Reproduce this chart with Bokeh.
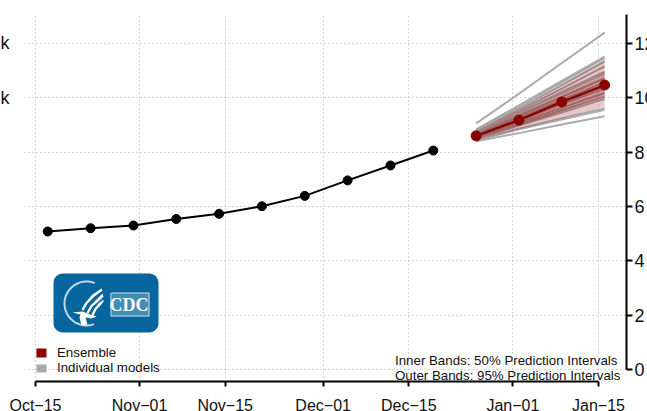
import math
from bokeh.plotting import figure
from bokeh.models import (Range1d, FixedTicker, Label, BoxAnnotation, PolyAnnotation, LinearAxis)
from bokeh.embed import file_html
from bokeh.resources import INLINE

# days since Oct-15
tick_days = [0, 17, 31, 47, 61, 78, 92]
tick_labels = ["Oct\u221215", "Nov\u221201", "Nov\u221215", "Dec\u221201", "Dec\u221215", "Jan\u221201", "Jan\u221215"]
y_ticks = [0, 20, 40, 60, 80, 100, 120]
y_labels = ["0", "2", "4", "6", "8", "10", "12"]
left_ticks = [100, 120]
left_labels = ["k", "k"]

obs_days = [2, 9, 16, 23, 30, 37, 44, 51, 58, 65]
obs_vals = [50.8, 52.0, 53.0, 55.4, 57.3, 60.1, 63.9, 69.6, 75.1, 80.6]

fc_days = [72, 79, 86, 93]
ens_vals = [86.0, 91.8, 98.5, 104.7]
outer_lo = [84.4, 88.4, 92.4, 96.8]
outer_hi = [87.8, 96.0, 104.8, 114.0]
inner_lo = [85.0, 89.6, 95.0, 100.6]
inner_hi = [87.0, 93.8, 101.4, 108.6]

models = [
    [90.6, 101.5, 112.8, 124.0],
    [88.4, 97.2, 106.2, 115.2],
    [88.2, 96.9, 105.7, 114.6],
    [87.8, 96.2, 104.8, 113.4],
    [87.5, 95.4, 103.4, 111.6],
    [87.2, 94.6, 102.2, 109.6],
    [87.0, 94.3, 101.7, 109.0],
    [86.6, 93.5, 100.3, 107.2],
    [86.3, 92.8, 99.2, 105.8],
    [86.0, 92.0, 98.2, 104.2],
    [85.8, 91.6, 97.6, 103.4],
    [85.5, 90.8, 96.4, 101.8],
    [85.2, 90.2, 95.4, 100.4],
    [84.9, 89.8, 94.6, 99.6],
    [84.6, 88.6, 92.4, 96.2],
    [84.4, 88.4, 92.0, 95.6],
    [84.0, 87.0, 90.2, 93.2],
]

BLACK = "#000000"
RED = "#8b0000"
GRAY = "#aaaaaa"
FONT = "Liberation Sans"

p = figure(width=650, height=411, frame_width=602, frame_height=367,
           output_backend="svg", toolbar_location=None,
           x_range=Range1d(-1.797, 96.57), y_range=Range1d(-4.42, 130.67),
           y_axis_location="right", min_border_left=25, min_border_top=14,
           min_border_right=21, min_border_bottom=30, outline_line_color=None)
p.styles = {"margin-left": "-3px"}

xa = p.xaxis[0]
xa.ticker = FixedTicker(ticks=tick_days)
xa.major_label_overrides = dict(zip(tick_days, tick_labels))
xa.bounds = (0, 92)
xa.axis_line_width = 2
xa.axis_line_color = BLACK
xa.major_tick_line_width = 2
xa.major_tick_line_color = BLACK
xa.major_tick_in = 0
xa.major_tick_out = 5
xa.minor_tick_line_color = None
xa.major_label_text_font = FONT
xa.major_label_text_font_size = "16px"
xa.major_label_text_color = "#111111"
xa.major_label_standoff = 10

ya = p.yaxis[0]
ya.ticker = FixedTicker(ticks=y_ticks)
ya.major_label_overrides = dict(zip(y_ticks, y_labels))
ya.bounds = (0, 130.67)
ya.axis_line_width = 2
ya.axis_line_color = BLACK
ya.major_tick_line_width = 2
ya.major_tick_line_color = BLACK
ya.major_tick_in = 0
ya.major_tick_out = 6
ya.minor_tick_line_color = None
ya.major_label_text_font = FONT
ya.major_label_text_font_size = "18px"
ya.major_label_text_color = "#111111"
ya.major_label_standoff = 2
ya.major_label_orientation = "horizontal"

left = LinearAxis(ticker=FixedTicker(ticks=left_ticks),
                  major_label_overrides=dict(zip(left_ticks, left_labels)),
                  axis_line_color=None, major_tick_line_color=None, minor_tick_line_color=None,
                  major_tick_in=0, major_tick_out=0, major_label_standoff=15,
                  major_label_text_font=FONT, major_label_text_font_size="18px",
                  major_label_text_color="#111111", major_label_orientation="horizontal")
p.add_layout(left, "left")

for g in (p.xgrid[0], p.ygrid[0]):
    g.grid_line_color = "#aaaaaa"
    g.grid_line_dash = "1 3"
    g.grid_line_width = 1
p.xgrid[0].ticker = FixedTicker(ticks=tick_days)
p.ygrid[0].ticker = FixedTicker(ticks=y_ticks)

for m in models:
    p.line(fc_days, m, line_color=GRAY, line_width=2)

p.varea(x=fc_days, y1=outer_lo, y2=outer_hi, fill_color=RED, fill_alpha=0.22)
p.varea(x=fc_days, y1=inner_lo, y2=inner_hi, fill_color=RED, fill_alpha=0.22)

p.line(fc_days, ens_vals, line_color=RED, line_width=2.5)
p.scatter(fc_days, ens_vals, size=10, fill_color=RED, line_color=RED)

p.line(obs_days, obs_vals, line_color=BLACK, line_width=2)
p.scatter(obs_days, obs_vals, size=9, fill_color=BLACK, line_color=BLACK)

# annotation screen units count from the frame's lower-left corner
FL, FB = 24, 381


def label(x, y, text, size="13.3px", color="#111111", font=FONT, **kw):
    p.add_layout(Label(x=x - FL, y=FB - y, x_units="screen", y_units="screen", text=text,
                       text_font=font, text_font_size=size, text_color=color,
                       text_baseline="middle", **kw))


def box(l, r, t, b, color, **kw):
    p.add_layout(BoxAnnotation(left=l - FL, right=r - FL, top=FB - t, bottom=FB - b,
                               left_units="screen", right_units="screen",
                               top_units="screen", bottom_units="screen",
                               fill_color=color, fill_alpha=1, line_alpha=0, level="overlay", **kw))


def poly(xs, ys, alpha=1.0):
    p.add_layout(PolyAnnotation(xs=[x - FL for x in xs], ys=[FB - y for y in ys],
                                xs_units="screen", ys_units="screen", fill_color="white",
                                fill_alpha=alpha, line_alpha=0, level="overlay"))


# legend
box(36, 46, 348, 357, RED)
box(36, 46, 364, 372, GRAY)
label(56.5, 352, "Ensemble")
label(56.5, 367, "Individual models")
label(394.5, 360, "Inner Bands: 50% Prediction Intervals")
label(394.5, 375, "Outer Bands: 95% Prediction Intervals")

# logo
box(53, 158, 273, 332, "#07669d", border_radius=9)
a = [math.radians(t) for t in range(68, 295, 6)]
poly([86 + 23 * math.cos(t) for t in a] + [86 + 21 * math.cos(t) for t in reversed(a)],
     [303 - 23 * math.sin(t) for t in a] + [303 - 21 * math.sin(t) for t in reversed(a)], 0.75)
poly([101, 92, 85, 81, 83, 87, 94, 102], [288, 294, 302, 309, 310, 303, 296, 290])
poly([102, 96, 90, 86, 88, 92, 98, 103], [293, 299, 305, 312, 313, 306, 301, 296])
poly([103, 98, 94, 91, 93, 96, 100, 103], [299, 303, 308, 314, 315, 309, 305, 301])
poly([72, 82, 90, 96, 91, 85, 87, 81, 79, 80], [312, 311, 314, 316, 318, 317, 324, 325, 317, 314])
poly([110, 149, 149, 110, 110, 111, 111, 148, 148, 111, 111, 110],
     [292, 292, 316, 316, 292, 293, 315, 315, 293, 293, 292, 292], 0.85)
poly([111, 148, 148, 111], [293, 293, 315, 315], 0.25)
label(128.5, 304.5, "CDC", size="18px", color="white", font="Liberation Serif",
      text_font_style="bold", text_align="center", level="overlay")

open("out.html", "w").write(file_html(p, INLINE))
